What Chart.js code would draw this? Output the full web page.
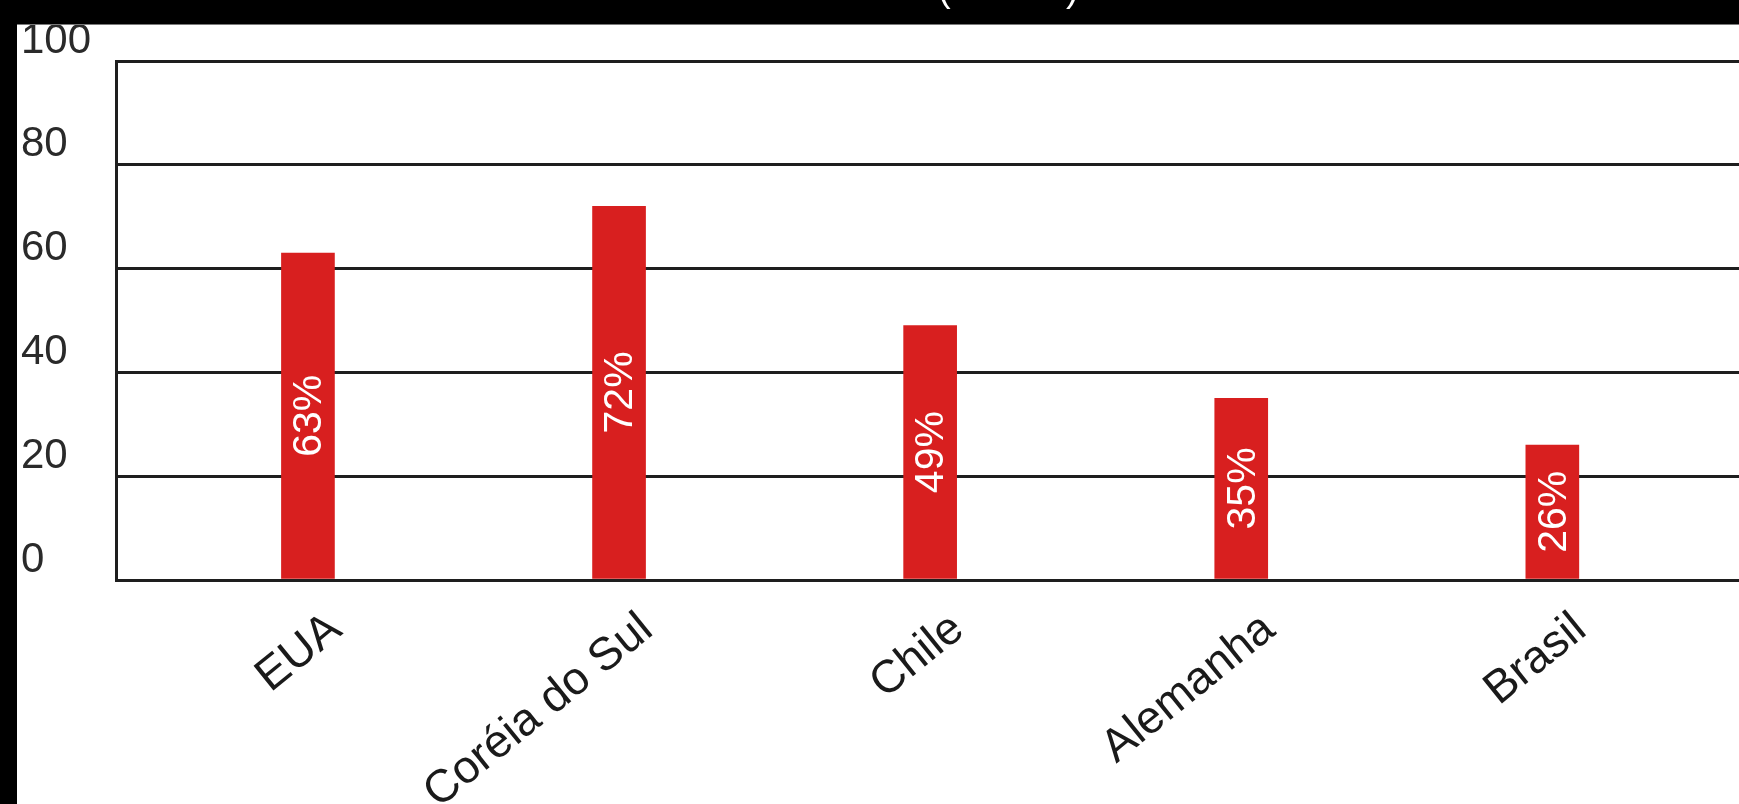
<!DOCTYPE html>
<html>
<head>
<meta charset="utf-8">
<script src="https://cdn.jsdelivr.net/npm/chart.js@4.4.1/dist/chart.umd.min.js"></script>
<style>
html,body{margin:0;padding:0;background:#fff;overflow:hidden;}
canvas{display:block;}
</style>
</head>
<body>
<canvas id="c" width="1739" height="804"></canvas>
<script>
// ---- data ----
const categories = ['EUA', 'Coréia do Sul', 'Chile', 'Alemanha', 'Brasil'];
const values = [63, 72, 49, 35, 26];
const valueLabels = ['63%', '72%', '49%', '35%', '26%'];
const yTickValues = [0, 20, 40, 60, 80, 100];
const titleOpen = '(';
const titleClose = ')';

const FONT = '"Liberation Sans", Arial, Helvetica, sans-serif';

const framePlugin = {
  id: 'frame',
  beforeDraw(chart) {
    const ctx = chart.ctx;
    ctx.save();
    ctx.fillStyle = '#ffffff';
    ctx.fillRect(0, 0, chart.width, chart.height);
    ctx.restore();
  },
  afterDraw(chart) {
    const ctx = chart.ctx;
    const W = chart.width, H = chart.height;
    ctx.save();
    ctx.fillStyle = '#000000';
    ctx.fillRect(0, 0, W, 24);
    ctx.fillRect(0, 0, 17, H);
    ctx.fillStyle = '#7a7a7a';
    ctx.fillRect(17, 24, W - 17, 1);
    ctx.fillStyle = '#ffffff';
    ctx.font = '38px ' + FONT;
    ctx.textBaseline = 'alphabetic';
    ctx.textAlign = 'left';
    ctx.fillText(titleOpen, 938, 1);
    ctx.fillText(titleClose, 1066, 1);
    ctx.restore();
  }
};

const barLabelPlugin = {
  id: 'barLabels',
  afterDatasetsDraw(chart) {
    const ctx = chart.ctx;
    const meta = chart.getDatasetMeta(0);
    ctx.save();
    ctx.fillStyle = '#ffffff';
    ctx.font = '41px ' + FONT;
    ctx.textAlign = 'center';
    ctx.textBaseline = 'middle';
    meta.data.forEach((el, i) => {
      const cx = el.x;
      const cy = (el.y + el.base) / 2;
      ctx.save();
      ctx.translate(cx, cy);
      ctx.rotate(-Math.PI / 2);
      ctx.fillText(valueLabels[i], 0, 2);
      ctx.restore();
    });
    ctx.restore();
  }
};

new Chart(document.getElementById('c'), {
  type: 'bar',
  data: {
    datasets: [{
      data: categories.map((c, i) => ({ x: i, y: values[i] })),
      backgroundColor: '#d81f1f',
      borderWidth: 0,
      barThickness: 53
    }]
  },
  options: {
    responsive: false,
    animation: false,
    events: [],
    layout: { padding: { left: 21, top: 61, right: 0, bottom: 0 } },
    plugins: { legend: { display: false }, tooltip: { enabled: false }, title: { display: false } },
    scales: {
      x: {
        type: 'linear',
        min: -0.617,
        max: 4.6,
        offset: false,
        grid: { display: false, drawTicks: false },
        border: { display: false },
        ticks: {
          stepSize: 1,
          autoSkip: false,
          minRotation: 39,
          maxRotation: 39,
          padding: 22,
          labelOffset: 28,
          color: '#1a1a1a',
          font: { size: 46, family: FONT },
          callback: (v) => {
            const r = Math.round(v);
            return (Math.abs(v - r) < 1e-6 && categories[r] !== undefined) ? categories[r] : null;
          }
        },
        afterFit: (s) => { s.height = 224; s.paddingLeft = 0; s.paddingRight = 0; }
      },
      y: {
        min: yTickValues[0],
        max: yTickValues[yTickValues.length - 1],
        afterBuildTicks: (s) => { s.ticks = yTickValues.map(v => ({ value: v })); },
        grid: { color: '#1e1e1e', lineWidth: 3, drawTicks: false },
        border: { display: true, color: '#1e1e1e', width: 3 },
        ticks: {
          crossAlign: 'far',
          labelOffset: -20,
          color: '#2a2a2a',
          font: { size: 42, family: FONT },
          callback: (v) => String(v)
        },
        afterFit: (s) => { s.width = 95; s.paddingTop = 0; s.paddingBottom = 0; }
      }
    }
  },
  plugins: [framePlugin, barLabelPlugin]
});
</script>
</body>
</html>
